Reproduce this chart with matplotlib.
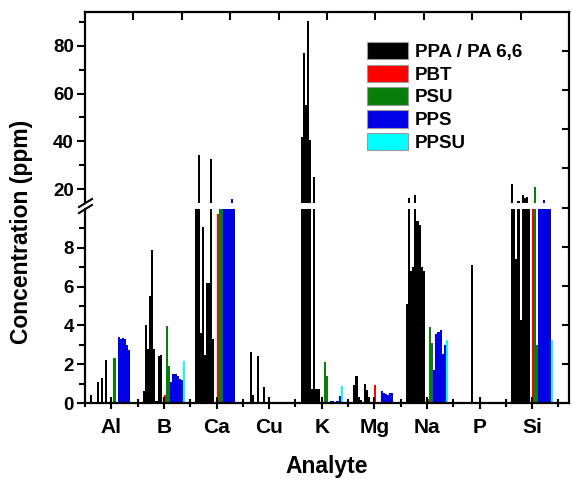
import matplotlib
matplotlib.use("Agg")
import matplotlib.pyplot as plt
import numpy as np
from matplotlib.patches import Patch
from matplotlib.lines import Line2D

plt.rcParams['font.family'] = ['Liberation Sans', 'DejaVu Sans']
plt.rcParams['font.weight'] = 'bold'

analytes = ["Al", "B", "Ca", "Cu", "K", "Mg", "Na", "P", "Si"]

# PPA / PA 6,6 samples (10 per analyte)
ppa = [
    [0.4, 0, 0, 1.1, 0, 1.3, 0, 2.2, 0, 0],               # Al
    [0.6, 4.0, 2.8, 5.5, 7.9, 2.8, 0.1, 2.4, 2.5, 0],     # B
    [12, 34.5, 3.6, 9.05, 2.5, 6.2, 6.2, 32.6, 3.3, 0],   # Ca
    [0, 2.65, 0.4, 0, 2.4, 0, 0, 0.85, 0, 0],             # Cu
    [42, 76.8, 55, 90.4, 40.6, 0.7, 25.3, 0.7, 0.7, 0],   # K
    [0.93, 1.4, 0.3, 0.15, 0.05, 0.98, 0.65, 0.3, 0, 0],  # Mg
    [5.1, 16.3, 6.8, 7.0, 17.6, 9.4, 9.2, 7.0, 6.8, 0],   # Na
    [0, 0.05, 0.05, 0.05, 0.05, 0, 7.1, 0, 0, 0],         # P
    [22.3, 12, 7.4, 15.2, 4.3, 17.6, 16.5, 16.9, 12, 0],  # Si
]
# PBT (1 sample)
pbt = [0, 0.4, 9.75, 0, 0.05, 0.93, 0.2, 0, 12]
# PSU (2 samples)
psu = [
    [2.3, 0], [3.95, 1.9], [11, 11], [0, 0], [2.13, 1.4],
    [0, 0], [3.93, 3.08], [0, 0], [20.8, 3.0],
]
# PPS (6 samples)
pps = [
    [3.4, 3.3, 3.35, 3.3, 3.0, 2.75],
    [1.1, 1.5, 1.5, 1.4, 1.25, 1.2],
    [12, 12, 12, 12, 16, 12],
    [0, 0, 0, 0, 0, 0],
    [0.05, 0.12, 0.12, 0.05, 0.1, 0.35],
    [0.62, 0.5, 0.48, 0.42, 0.5, 0.52],
    [1.7, 3.55, 3.65, 3.75, 2.55, 3.0],
    [0, 0, 0, 0, 0, 0],
    [12, 12, 15.5, 12, 12, 12],
]
# PPSU (1 sample)
ppsu = [0, 2.15, 0, 0, 0.9, 0, 3.25, 0, 3.25]

series = [
    (ppa, "#000000", "PPA / PA 6,6"),
    (pbt, "#ff0000", "PBT"),
    (psu, "#087f08", "PSU"),
    (pps, "#0000e6", "PPS"),
    (ppsu, "#00ffff", "PPSU"),
]

fig = plt.figure(figsize=(5.72, 4.8), dpi=100)
L, W = 85 / 572, 484 / 572
ax_lo = fig.add_axes([L, 1 - 403 / 480, W, 194 / 480])
ax_hi = fig.add_axes([L, 1 - 203 / 480, W, 191 / 480])
ax_ov = fig.add_axes([L, 1 - 403 / 480, W, 391 / 480])

n_slots = sum(np.array(s[0], dtype=float).reshape(len(analytes), -1).shape[1] for s in series)
w = 0.8 / n_slots
xc = np.arange(len(analytes))
offset = 0
for vals, color, label in series:
    vals = np.array(vals, dtype=float).reshape(len(analytes), -1)
    for k in range(vals.shape[1]):
        x = xc - 0.4 + (offset + k + 0.5) * w
        for ax in (ax_lo, ax_hi):
            ax.bar(x, vals[:, k], width=w, color=color, linewidth=0)
    offset += vals.shape[1]

# lower panel
ax_lo.set_xlim(-0.5, 8.7)
ax_lo.set_ylim(0, 10)
ax_lo.spines[["top", "right"]].set_visible(False)
for s in ("left", "bottom"):
    ax_lo.spines[s].set_linewidth(1.6)
ax_lo.set_xticks(xc)
ax_lo.set_xticklabels(analytes)
ax_lo.set_xticks(np.arange(-0.5, 8.6, 1), minor=True)
ax_lo.set_yticks([0, 2, 4, 6, 8])
ax_lo.set_yticks([1, 3, 5, 7, 9], minor=True)
ax_lo.tick_params(axis="x", which="major", direction="inout", length=9, width=1.5, labelsize=15, pad=6)
ax_lo.tick_params(axis="x", which="minor", direction="inout", length=6, width=1.5)
ax_lo.tick_params(axis="y", which="major", direction="out", length=6, width=1.5, labelsize=13.5, pad=2)
ax_lo.tick_params(axis="y", which="minor", direction="out", length=4, width=1.5)

# upper panel
ax_hi.set_xlim(-0.5, 8.7)
ax_hi.set_ylim(14.28, 94.03)
ax_hi.spines[["top", "right", "bottom"]].set_visible(False)
ax_hi.spines["left"].set_linewidth(1.6)
ax_hi.set_xticks([])
ax_hi.set_yticks([20, 40, 60, 80])
ax_hi.set_yticks([30, 50, 70, 90], minor=True)
ax_hi.tick_params(axis="y", which="major", direction="out", length=6, width=1.5, labelsize=13.5, pad=2)
ax_hi.tick_params(axis="y", which="minor", direction="out", length=4, width=1.5)
ax_hi.patch.set_visible(False)

# frame overlay (top and right axes)
ax_ov.set_xlim(0, 10)
ax_ov.set_ylim(0, 10)
ax_ov.patch.set_visible(False)
ax_ov.spines[["left", "bottom"]].set_visible(False)
for s in ("top", "right"):
    ax_ov.spines[s].set_linewidth(1.6)
ax_ov.set_xticks(range(1, 10))
ax_ov.set_yticks(range(1, 10))
ax_ov.tick_params(axis="x", bottom=False, top=True, labelbottom=False, direction="in", length=6, width=1.5)
ax_ov.tick_params(axis="y", left=False, right=True, labelleft=False, direction="in", length=5, width=1.5)

# break marks on the left axis
for yb in (203, 209):
    fig.add_artist(Line2D([79 / 572, 92 / 572], [1 - (yb + 4) / 480, 1 - (yb - 4) / 480],
                          transform=fig.transFigure, color="black", linewidth=1.5))

fig.text(327 / 572, 1 - 466 / 480, "Analyte", ha="center", va="center", fontsize=16.5, fontweight="bold")
fig.text(22 / 572, 1 - 232 / 480, "Concentration (ppm)", ha="center", va="center",
         rotation=90, fontsize=16.5, fontweight="bold")

handles = [Patch(facecolor=c, edgecolor="#999999", linewidth=0.8) for _, c, _ in series]
labels = [lab for _, _, lab in series]
fig.legend(handles, labels, loc="upper left", bbox_to_anchor=(367 / 572, 1 - 41.7 / 480),
           bbox_transform=fig.transFigure, frameon=False, fontsize=13.5,
           handlelength=2.2, handleheight=1.05, labelspacing=0.2, handletextpad=0.35,
           borderpad=0, borderaxespad=0)

fig.savefig("out.png", dpi=100)
